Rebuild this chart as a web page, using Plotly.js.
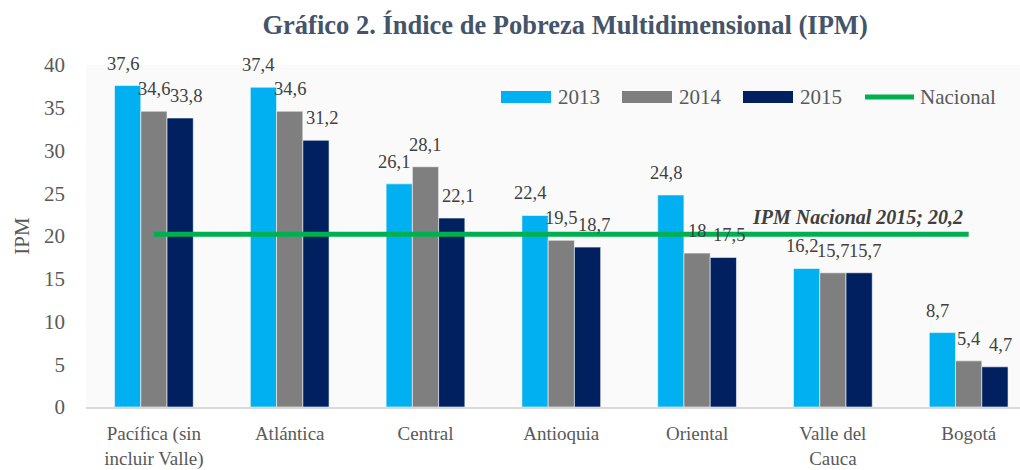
<!DOCTYPE html>
<html>
<head>
<meta charset="utf-8">
<script src="https://cdn.plot.ly/plotly-3.0.1.min.js"></script>
<style>html,body{margin:0;padding:0;background:#fff;}#chart{width:1020px;height:470px;}</style>
</head>
<body>
<div id="chart"></div>
<script>
// ---- data ----
var categories = ['Pacífica (sin incluir Valle)', 'Atlántica', 'Central', 'Antioquia', 'Oriental', 'Valle del Cauca', 'Bogotá'];
var tickLabels = ['Pacífica (sin<br>incluir Valle)', 'Atlántica', 'Central', 'Antioquia', 'Oriental', 'Valle del<br>Cauca', 'Bogotá'];
var years = ['2013', '2014', '2015'];
var ipm2013 = [37.6, 37.4, 26.1, 22.4, 24.8, 16.2, 8.7];
var ipm2014 = [34.6, 34.6, 28.1, 19.5, 18.0, 15.7, 5.4];
var ipm2015 = [33.8, 31.2, 22.1, 18.7, 17.5, 15.7, 4.7];
var nacional = [20.2, 20.2, 20.2, 20.2, 20.2, 20.2, 20.2];
var nacionalLabel = 'IPM Nacional 2015; 20,2';
var yTicks = [0, 5, 10, 15, 20, 25, 30, 35, 40];

// ---- style ----
var colors = ['#00B0F0', '#7F7F7F', '#002060'];
var lineColor = '#00B050';
var serif = 'Liberation Serif, Times New Roman, serif';
var textGrey = '#595959';
var bargap = 0.42;
var labelNudge = [-5, 0, 6];   // horizontal pixel nudge of value labels per series

var series = [ipm2013, ipm2014, ipm2015];
var traces = series.map(function (vals, i) {
  return {
    type: 'bar', name: years[i], x: categories, y: vals,
    marker: {color: colors[i], line: {color: '#fafafa', width: 0.6}},
    showlegend: false, hoverinfo: 'x+y'
  };
});
traces.push({
  type: 'scatter', mode: 'lines', name: 'Nacional', x: categories, y: nacional,
  line: {color: lineColor, width: 5}, showlegend: false
});

function fmt(v) { return String(v).replace('.', ','); }

// value labels above bars
var annotations = [];
var barW = (1 - bargap) / 3;
series.forEach(function (vals, s) {
  vals.forEach(function (v, i) {
    annotations.push({
      x: i + (s - 1) * barW, y: v, xref: 'x', yref: 'y',
      text: fmt(v), showarrow: false, yanchor: 'middle', yshift: 22, xshift: labelNudge[s],
      font: {family: serif, size: 18.5, color: '#404040'}
    });
  });
});
annotations.push({
  x: categories.length - 1, y: nacional[nacional.length - 1], xref: 'x', yref: 'y',
  text: '<b><i>' + nacionalLabel + '</i></b>', showarrow: false,
  xanchor: 'right', xshift: -4, yanchor: 'middle', yshift: 17,
  font: {family: serif, size: 20, color: '#404040'}
});

// custom legend (pixel layout -> paper)
var L = 86, T = 65, W = 934, H = 342;
function px(x) { return (x - L) / W; }
function py(y) { return (T + H - y) / H; }
var shapes = [];
var legendBoxX = [501, 622, 743];
years.forEach(function (yr, i) {
  shapes.push({type: 'rect', xref: 'paper', yref: 'paper',
    x0: px(legendBoxX[i]), x1: px(legendBoxX[i] + 50), y0: py(103), y1: py(91),
    fillcolor: colors[i], line: {width: 0}});
  annotations.push({xref: 'paper', yref: 'paper', x: px(legendBoxX[i] + 55), y: py(97),
    xanchor: 'left', yanchor: 'middle', showarrow: false, text: yr,
    font: {family: serif, size: 21, color: textGrey}});
});
shapes.push({type: 'line', xref: 'paper', yref: 'paper',
  x0: px(865), x1: px(914), y0: py(97), y1: py(97),
  line: {color: lineColor, width: 5}});
annotations.push({xref: 'paper', yref: 'paper', x: px(918), y: py(97),
  xanchor: 'left', yanchor: 'middle', showarrow: false, text: 'Nacional',
  font: {family: serif, size: 21, color: textGrey}});

var layout = {
  width: 1020, height: 470,
  margin: {l: L, r: 1020 - L - W, t: T, b: 470 - T - H, pad: 0},
  paper_bgcolor: '#ffffff', plot_bgcolor: '#fafafa',
  barmode: 'group', bargap: bargap, bargroupgap: 0,
  title: {
    text: '<b>Gráfico 2. Índice de Pobreza Multidimensional (IPM)</b>',
    font: {family: serif, size: 26.5, color: '#44546A'},
    xref: 'container', yref: 'container', x: 0.554, xanchor: 'center', y: 1 - 25 / 470, yanchor: 'middle'
  },
  xaxis: {
    type: 'category', range: [-0.5, 6.378], tickvals: categories, ticktext: tickLabels,
    showline: true, linecolor: '#d9d9d9', linewidth: 2, ticks: '', showgrid: false,
    tickfont: {family: serif, size: 19, color: textGrey}, ticklabelstandoff: 8, fixedrange: true
  },
  yaxis: {
    range: [0, 40], tickvals: yTicks, showgrid: false, zeroline: false, showline: false, ticks: '',
    tickfont: {family: serif, size: 21, color: textGrey}, ticklabelstandoff: 20,
    title: {text: 'IPM', font: {family: serif, size: 21, color: textGrey}, standoff: 8}, fixedrange: true
  },
  showlegend: false,
  shapes: shapes,
  annotations: annotations
};

Plotly.newPlot('chart', traces, layout, {displayModeBar: false, staticPlot: true});
</script>
</body>
</html>
